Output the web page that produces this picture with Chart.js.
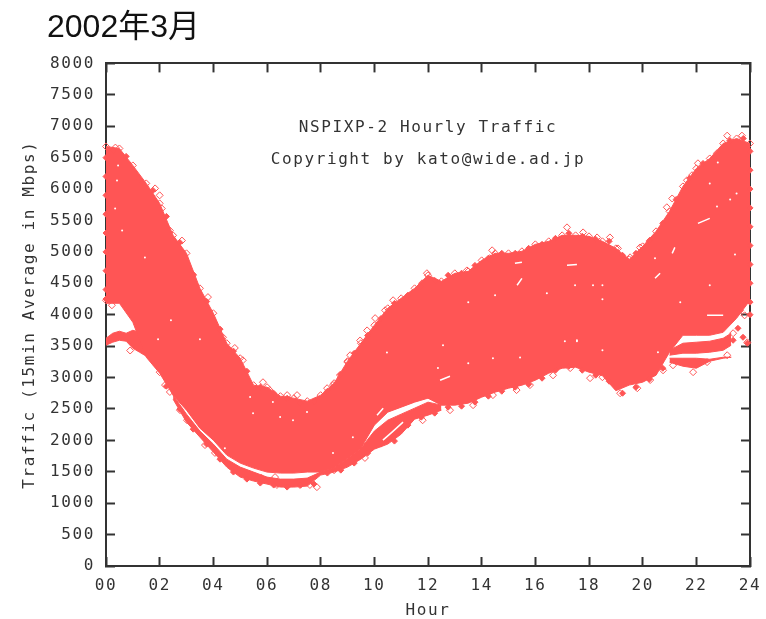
<!DOCTYPE html>
<html>
<head>
<meta charset="utf-8">
<title>NSPIXP-2 Hourly Traffic</title>
<script src="https://cdn.jsdelivr.net/npm/chart.js@4/dist/chart.umd.min.js"></script>
<style>
  html, body { margin: 0; padding: 0; background: #fff; }
  canvas { display: block; }
</style>
</head>
<body>
<canvas id="canvas" width="766" height="619"></canvas>
<script>
const xTickLabels = ['00','02','04','06','08','10','12','14','16','18','20','22','24']
const yTickLabels = ['0','500','1000','1500','2000','2500','3000','3500','4000','4500','5000','5500','6000','6500','7000','7500','8000']

const hours = [0,.5,1,1.5,2,2.5,3,3.5,4,4.5,5,5.5,6,6.5,7,7.5,8,8.5,9,9.5,10,10.5,11,11.5,12,12.5,13,13.5,14,14.5,15,15.5,16,16.5,17,17.5,18,18.5,19,19.5,20,20.5,21,21.5,22,22.5,23,23.5,24]
const upper = [6678,6646,6376,6090,5772,5263,4977,4420,4023,3546,3307,2878,2846,2703,2671,2624,2719,2910,3260,3546,3832,4102,4261,4420,4627,4531,4659,4690,4865,4977,4977,5009,5120,5168,5263,5263,5247,5168,5056,4881,5088,5327,5645,6042,6328,6487,6726,6805,6726]
const lower = [4182,4182,3880,3323,3069,2719,2480,2194,2003,1765,1638,1558,1495,1479,1479,1495,1495,1558,1717,1876,2242,2449,2528,2608,2671,2560,2560,2592,2687,2767,2830,2878,2957,3069,3148,3164,3085,3030,2790,2880,2926,3037,3403,3673,3673,3673,3720,3943,4229]

// island under the notch just after midnight
const islandHours = [0,.25,.5,.75,1,1.25,1.5]
const islandTop = [3625,3705,3737,3705,3752,3721,3593]
const islandBottom = [3514,3562,3593,3578,3466,3403,3339]

// thin strand running below the main cloud
const strandHours = [2.5,3,3.5,4,4.5,5,5.5,6,6.5,7,7.5,8,8.5,9,9.5,10,10.5,11,11.5,12,12.5]
const strandTop = [2719,2417,2147,1940,1701,1574,1495,1415,1383,1383,1399,1495,1558,1717,1876,2147,2321,2417,2512,2608,2560]
const strandBottom = [2655,2290,2051,1813,1574,1415,1352,1304,1256,1256,1272,1447,1495,1574,1701,1860,1940,2099,2337,2401,2480]

// evening strands
const eveningHours = [21,21.5,22,22.5,23,23.3]
const eveningTopA = [3434,3546,3562,3578,3625,3705]
const eveningBottomA = [3355,3387,3387,3403,3434,3514]
const eveningTopB = [3307,3307,3307,3291,3323,3323]
const eveningBottomB = [3244,3180,3148,3260,3307,3323]

// hollow diamonds standing off the edges of the cloud
const edgeHours = [1.83,1.65,2,2.08,1.64,2.38,2.2,2.83,2.68,2.87,3.24,3.13,3.8,3.6,3.6,4.36,
  0,.33,.5,.22,.7,.97,1.08,1.27,1.45,.9,1.83,
  1.9,2,2.2,2.38,2.76,3.02,3.69,4.06,4.7,5,5.8,6.3,6.37,7.23,7.6,7.86,8.5,8.7,9.65,9.65,10.8,
  4.8,5.1,5.85,6.1,6.75,7.12,6.86,8.24,8.46,8.72,9,9.1,
  9.47,9.73,10.03,10.4,10.7,11.78,11.96,11.63,13.45,14.39,14.3,15.17,17.18,17.78,18.3,18.78,19.08,19.53,19.9,20.27,
  20.9,21.1,21.65,21.84,22.06,22.77,23.15,23.37,23.7,
  11.8,12.82,13.68,14.42,15.3,15.8,16.66,17.3,18.04,18.5,19.16,19.8,20.28,20.76,
  21.13,21.88,22.4,23.15,23.37,23.9,23.44,23.63,23.8,.35]
const edgeValues = [6010,5820,5900,5690,5660,5340,5420,5180,5020,4820,4630,4390,4280,4150,3910,3640,
  4230,4310,4390,4150,4230,4070,3940,3830,3750,3430,3240,
  3195,3085,2880,2770,2480,2320,1925,1800,1560,1480,1400,1415,1290,1290,1290,1255,1525,1590,1845,1720,2240,
  3470,3275,2925,2800,2720,2720,2640,2830,2880,3040,3245,3355,
  3590,3750,3945,4070,4230,4500,4660,4390,4705,5025,4900,4820,5390,5310,5230,5230,5055,4913,5070,5180,
  5710,5850,6140,6220,6410,6570,6850,6740,6850,
  2320,2480,2560,2720,2800,2880,3035,3150,2990,3005,2750,2830,2960,3115,
  3195,3085,3245,3355,3705,3560,4230,4070,3990,6660]

// solid diamonds: the midnight columns, then the top and bottom outline
const solidHours = [0,0,0,0,0,0,0,0,0,24,24,24,24,24,24,24,24,24,24,
  23.74,23.9,23.55,23.37,
  .25,.75,1.25,1.75,2.25,2.75,3.25,3.75,4.25,4.75,5.25,5.75,6.25,6.75,7.25,7.75,8.25,8.75,9.25,9.75,10.25,10.75,11.25,11.75,12.25,12.75,13.25,13.75,14.25,14.75,15.25,15.75,16.25,16.75,17.25,17.75,18.25,18.75,19.25,19.75,20.25,20.75,21.25,21.75,22.25,22.75,23.25,23.75,
  2.25,2.75,3.25,3.75,4.25,4.75,5.25,5.75,6.25,6.75,7.25,7.75,8.25,8.75,9.25,9.75,10.25,10.75,11.25,11.75,12.25,12.75,13.25,13.75,14.25,14.75,15.25,15.75,16.25,16.75,17.25,17.75,18.25,18.75,19.25,19.75,20.25,20.75]
const solidValues = [6500,6200,5900,5600,5300,5000,4700,4400,4250,6600,6300,6000,5700,5400,5100,4800,4500,4200,4000,
  3641,3546,3784,3593,
  6615,6520,6153,5978,5565,5150,4640,4210,3770,3420,3100,2846,2750,2670,2590,2620,2780,3050,3385,3670,3940,4180,4310,4450,4545,4627,4660,4785,4900,4977,4977,5056,5120,5215,5295,5247,5200,5168,4945,4977,5168,5454,5835,6170,6408,6535,6773,6805,
  2862,2496,2178,1940,1700,1495,1383,1320,1288,1256,1288,1304,1479,1526,1638,1797,1940,1988,2242,2369,2433,2528,2544,2608,2703,2782,2846,2894,2989,3116,3180,3116,3037,2941,2750,2846,2973,3148]

// white slivers left open in the cloud, null breaks the line
const sliverHours = [10.32,10.66,11.07,null,12.45,12.82,null,15.32,15.5,null,17.18,17.55,null,15.24,15.5,null,22.06,22.5,null,20.46,20.65,null,21.1,21.2,null,22.4,23,null,10.1,10.33]
const sliverValues = [2003,2130,2290,null,2957,3021,null,4468,4579,null,4786,4800,null,4818,4834,null,5454,5533,null,4579,4659,null,4977,5072,null,3990,3990,null,2400,2512]

// single white specks
const speckHours = [.6,1.45,.45,.41,.34,2.42,1.94,3.5,5.48,6.49,6.97,7.49,6.22,5.37,4.43,8.46,9.2,10.47,12.37,14.42,15.43,13.5,12.56,17.1,17.55,17.48,16.43,14.5,13.5,18.15,18.5,18.5,20.46,23.44,22.5,21.4,23.26,22.77,22.5,22.8,23.5,18.5,17.55,20.57]
const speckValues = [5340,4910,6375,6135,5690,3910,3610,3610,2430,2370,2320,2450,2610,2690,1876,1797,2050,3400,3150,3307,3320,3228,3514,3578,3578,4468,4340,4310,4198,4468,4468,4245,4897,4960,4468,4198,5835,5724,6090,6424,5930,3434,3593,3403]

const RED = '#ff5555'
const INK = '#333333'
const MONO = { family: '"DejaVu Sans Mono", monospace', size: 16 }

const pairs = (xs, ys) => xs.map((x, i) => ({ x: x === null ? NaN : x, y: ys[i] === null ? NaN : ys[i] }))

// two lines with the space between them filled
const band = (label, xs, top, bottom, radius) => [
  { label: label, data: pairs(xs, top), fill: '+1', backgroundColor: RED, borderColor: RED, borderWidth: 1,
    pointStyle: 'rectRot', pointRadius: radius, pointBackgroundColor: 'rgba(0,0,0,0)', pointBorderColor: RED, pointBorderWidth: 1, order: 5, clip: false },
  { label: label + ' low', data: pairs(xs, bottom), fill: false, borderColor: RED, borderWidth: 1,
    pointStyle: 'rectRot', pointRadius: 0, order: 5, clip: false },
]

const marks = (label, xs, ys, color, radius, order) => ({
  label: label, data: pairs(xs, ys), showLine: false, pointStyle: 'rectRot', pointRadius: radius,
  pointBackgroundColor: color, pointBorderColor: RED, pointBorderWidth: 1, order: order, clip: false,
})

const notes = {
  id: 'notes',
  beforeDraw(chart) {
    chart.ctx.letterSpacing = '1.6px'
    if (!chart.titleBlock.wrapped) {
      const draw = chart.titleBlock.draw
      chart.titleBlock.draw = function () {
        chart.ctx.letterSpacing = '0px'
        draw.call(this)
        chart.ctx.letterSpacing = '1.6px'
      }
      chart.titleBlock.wrapped = true
    }
  },
  afterDatasetsDraw(chart) {
    const { ctx, scales } = chart
    ctx.save()
    ctx.font = '16px ' + MONO.family
    ctx.fillStyle = INK
    ctx.textAlign = 'center'
    ctx.textBaseline = 'middle'
    ctx.fillText('NSPIXP-2 Hourly Traffic', scales.x.getPixelForValue(12), scales.y.getPixelForValue(6970))
    ctx.fillText('Copyright by kato@wide.ad.jp', scales.x.getPixelForValue(12), scales.y.getPixelForValue(6460))
    ctx.restore()
  },
}

const frame = { display: true, width: 2, color: INK }
const inward = { drawOnChartArea: false, tickLength: -9, tickWidth: 2, tickColor: INK }

new Chart(document.getElementById('canvas'), {
  type: 'line',
  data: {
    datasets: [
      { label: 'slivers', data: pairs(sliverHours, sliverValues), borderColor: '#ffffff', borderWidth: 1.5, pointRadius: 0, spanGaps: false, order: 0 },
      { label: 'specks', data: pairs(speckHours, speckValues), showLine: false, pointStyle: 'circle', pointRadius: 1, pointBorderWidth: 0, pointBackgroundColor: '#ffffff', order: 1 },
      marks('edges', edgeHours, edgeValues, 'rgba(0,0,0,0)', 3.5, 3),
      marks('solid', solidHours, solidValues, RED, 3, 4),
      ...band('traffic', hours, upper, lower, 3.5),
      ...band('island', islandHours, islandTop, islandBottom, 0),
      ...band('strand', strandHours, strandTop, strandBottom, 0),
      ...band('evening a', eveningHours, eveningTopA, eveningBottomA, 0),
      ...band('evening b', eveningHours, eveningTopB, eveningBottomB, 0),
    ],
  },
  options: {
    responsive: false,
    animation: false,
    layout: { padding: { left: 47, right: 16, top: 9, bottom: 0 } },
    elements: { line: { tension: 0 } },
    plugins: {
      legend: { display: false },
      tooltip: { enabled: false },
      title: {
        display: true,
        text: '2002年3月',
        align: 'start',
        color: '#111111',
        font: { family: '"Liberation Sans", "Noto Sans CJK JP", sans-serif', size: 32, weight: 'normal', lineHeight: 1.2 },
        padding: { top: 0, bottom: 16 },
      },
    },
    scales: {
      x: {
        type: 'linear', position: 'bottom', min: 0, max: 24,
        afterFit(scale) { scale.height = 53; scale.paddingRight = 0; scale.paddingLeft = 0 },
        border: frame,
        grid: inward,
        ticks: { stepSize: 2, autoSkip: false, maxRotation: 0, color: INK, font: MONO, padding: 19,
          callback: v => xTickLabels[v / 2] },
        title: { display: true, text: 'Hour', color: INK, font: MONO, padding: { top: 0, bottom: -1 } },
      },
      y: {
        type: 'linear', position: 'left', min: 0, max: 8000,
        afterFit(scale) { scale.width = 59 },
        border: frame,
        grid: inward,
        ticks: { stepSize: 500, autoSkip: false, color: INK, font: MONO, padding: 20,
          callback: v => yTickLabels[v / 500] },
        title: { display: true, text: 'Traffic (15min Average in Mbps)', color: INK, font: MONO, padding: { top: -27, bottom: 0 } },
      },
      x2: {
        type: 'linear', position: 'top', min: 0, max: 24,
        afterFit(scale) { scale.height = 0; scale.paddingRight = 0; scale.paddingLeft = 0 },
        border: frame,
        grid: inward,
        ticks: { display: false, stepSize: 2 },
      },
      y2: {
        type: 'linear', position: 'right', min: 0, max: 8000,
        afterFit(scale) { scale.width = 0 },
        border: frame,
        grid: inward,
        ticks: { display: false, stepSize: 500 },
      },
    },
  },
  plugins: [notes],
})
</script>
</body>
</html>
